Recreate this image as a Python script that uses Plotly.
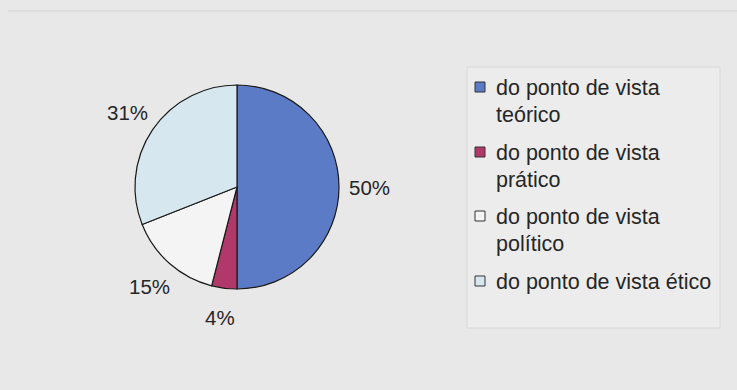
import math
import plotly.graph_objects as go

# Shares of responses per point of view (percent)
labels = [
    "do ponto de vista\nteórico",
    "do ponto de vista\nprático",
    "do ponto de vista\npolítico",
    "do ponto de vista ético",
]
values = [50, 4, 15, 31]
colors = ["#5b7bc6", "#b0396a", "#f4f4f4", "#d6e7ef"]

W, H = 737, 390
cx, cy, r = 237, 187, 102          # pie centre / radius in pixels
FONT = "Liberation Sans, Arial, sans-serif"
TXT = "#262626"


def px(x):
    return x / W


def py(y):
    return 1 - y / H


fig = go.Figure(
    go.Pie(
        labels=[l.replace("\n", " ") for l in labels],
        values=values,
        sort=False,
        direction="clockwise",
        rotation=0,
        marker=dict(colors=colors, line=dict(color="#1a1a1a", width=1.2)),
        textinfo="none",
        domain=dict(x=[px(cx - r), px(cx + r)], y=[py(cy + r), py(cy - r)]),
        hoverinfo="label+percent",
        showlegend=False,
    )
)

annotations = []
shapes = [
    # thin rule along the top of the frame
    dict(type="line", xref="paper", yref="paper",
         x0=px(8), x1=1, y0=py(11), y1=py(11),
         line=dict(color="#d2d2d2", width=1)),
]

# Percentage labels placed outside each slice at its mid-angle
total = sum(values)
cum = 0.0
label_dist = 132
for v in values:
    mid = (cum + v / 2) / total
    ang = math.radians(90 - mid * 360)
    lx = cx + label_dist * math.cos(ang)
    ly = cy - label_dist * math.sin(ang)
    annotations.append(dict(
        x=px(lx), y=py(ly), xref="paper", yref="paper",
        text=f"{v}%", showarrow=False, xanchor="center", yanchor="middle",
        font=dict(family=FONT, size=20.5, color=TXT),
    ))
    cum += v

# Legend box
lg_x0, lg_y0, lg_x1, lg_y1 = 467, 67, 720, 328
shapes.append(dict(type="rect", xref="paper", yref="paper",
                   x0=px(lg_x0), x1=px(lg_x1), y0=py(lg_y1), y1=py(lg_y0),
                   fillcolor="#ececec", line=dict(color="#d8d8d8", width=1),
                   layer="below"))

entry_y = [88, 153, 217, 282]
line_gap = 27
for lab, col, ey in zip(labels, colors, entry_y):
    shapes.append(dict(type="rect", xref="paper", yref="paper",
                       x0=px(475), x1=px(485), y0=py(ey + 4), y1=py(ey - 6),
                       fillcolor=col, line=dict(color="#333333", width=1)))
    for i, line in enumerate(lab.split("\n")):
        annotations.append(dict(
            x=px(494), y=py(ey + i * line_gap), xref="paper", yref="paper",
            text=line, showarrow=False, xanchor="left", yanchor="middle",
            font=dict(family=FONT, size=21.5, color=TXT),
        ))

fig.update_layout(
    width=W,
    height=H,
    margin=dict(l=0, r=0, t=0, b=0),
    paper_bgcolor="#e8e8e8",
    plot_bgcolor="#e8e8e8",
    font=dict(family=FONT, size=20, color=TXT),
    showlegend=False,
    shapes=shapes,
    annotations=annotations,
)

fig.write_html("out.html")
